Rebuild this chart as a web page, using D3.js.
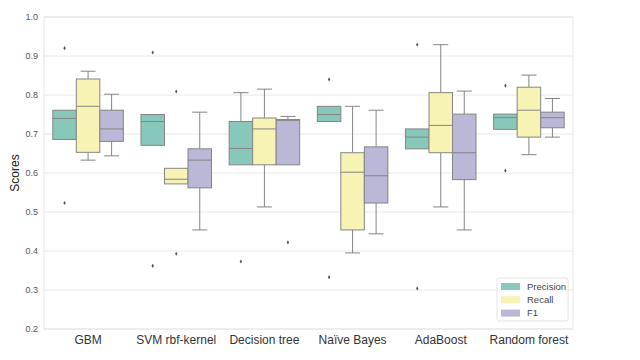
<!DOCTYPE html>
<html>
<head>
<meta charset="utf-8">
<script src="https://cdn.jsdelivr.net/npm/d3@7"></script>
<style>
  body { margin: 0; background: #fff; }
  svg { display: block; font-family: "Liberation Sans", Arial, sans-serif; }
</style>
</head>
<body>
<div id="chart"></div>
<script>
const models = ["GBM", "SVM rbf-kernel", "Decision tree", "Naïve Bayes", "AdaBoost", "Random forest"];
const metrics = ["Precision", "Recall", "F1"];
const yTicks = [0.2, 0.3, 0.4, 0.5, 0.6, 0.7, 0.8, 0.9, 1.0];

// box stats per metric, one entry per model: [whiskerLow, q1, median, q3, whiskerHigh]
const precisionStats = [
  [0.686, 0.686, 0.740, 0.761, 0.761],
  [0.671, 0.671, 0.732, 0.750, 0.750],
  [0.621, 0.621, 0.663, 0.732, 0.806],
  [0.732, 0.732, 0.750, 0.771, 0.771],
  [0.662, 0.662, 0.692, 0.713, 0.713],
  [0.712, 0.712, 0.742, 0.751, 0.751],
];
const recallStats = [
  [0.633, 0.653, 0.771, 0.841, 0.861],
  [0.572, 0.572, 0.584, 0.612, 0.612],
  [0.513, 0.621, 0.713, 0.741, 0.815],
  [0.395, 0.454, 0.602, 0.652, 0.771],
  [0.513, 0.652, 0.722, 0.806, 0.929],
  [0.647, 0.692, 0.761, 0.820, 0.851],
];
const f1Stats = [
  [0.644, 0.681, 0.713, 0.761, 0.802],
  [0.454, 0.562, 0.633, 0.662, 0.756],
  [0.621, 0.621, 0.735, 0.737, 0.745],
  [0.444, 0.523, 0.593, 0.667, 0.761],
  [0.454, 0.583, 0.652, 0.751, 0.810],
  [0.692, 0.716, 0.742, 0.756, 0.791],
];

const precisionOutliers = [[0.92, 0.523], [0.909, 0.362], [0.373], [0.840, 0.333], [0.929, 0.304], [0.824, 0.606]];
const recallOutliers = [[], [0.809, 0.393], [], [], [], []];
const f1Outliers = [[], [], [0.422], [], [], []];

const colors = ["#88c8bb", "#f6f3b5", "#bbb7d6"];

const width = 640, height = 360;
const margin = { top: 17, right: 67, bottom: 31, left: 44 };

const svg = d3.select("#chart").append("svg")
  .attr("width", width).attr("height", height);

const x = d3.scaleBand().domain(models).range([margin.left, width - margin.right]);
const xs = d3.scaleBand().domain(metrics).range([x.bandwidth() * 0.1, x.bandwidth() * 0.9]);
const y = d3.scaleLinear().domain([0.2, 1.0]).range([height - margin.bottom, margin.top]);

// grid
svg.append("g").selectAll("line").data(yTicks).join("line")
  .attr("x1", margin.left).attr("x2", width - margin.right)
  .attr("y1", d => y(d)).attr("y2", d => y(d))
  .attr("stroke", "#e8e8e8").attr("stroke-width", 1);

// frame
svg.append("rect")
  .attr("x", margin.left).attr("y", margin.top)
  .attr("width", width - margin.left - margin.right)
  .attr("height", height - margin.top - margin.bottom)
  .attr("fill", "none").attr("stroke", "#e6e6e6");

// y axis
const yAxis = svg.append("g").attr("transform", `translate(${margin.left},0)`)
  .call(d3.axisLeft(y).tickValues(yTicks).tickFormat(d3.format(".1f")).tickSize(0).tickPadding(6));
yAxis.select(".domain").remove();
yAxis.selectAll("text").attr("font-size", "9px").attr("fill", "#555")
  .attr("font-family", "Liberation Sans, Arial, sans-serif");

svg.append("text")
  .attr("transform", `translate(19,${(margin.top + height - margin.bottom) / 2}) rotate(-90)`)
  .attr("text-anchor", "middle").attr("font-size", "12px").attr("fill", "#222")
  .text("Scores");

// x axis
const xAxis = svg.append("g").attr("transform", `translate(0,${height - margin.bottom})`)
  .call(d3.axisBottom(x).tickSize(0).tickPadding(6));
xAxis.select(".domain").remove();
xAxis.selectAll("text").attr("font-size", "12px").attr("fill", "#333")
  .attr("font-family", "Liberation Sans, Arial, sans-serif");

// boxes
const edge = "#858585";
const series = [
  { name: "Precision", stats: precisionStats, outliers: precisionOutliers },
  { name: "Recall", stats: recallStats, outliers: recallOutliers },
  { name: "F1", stats: f1Stats, outliers: f1Outliers },
];

series.forEach((s, si) => {
  s.stats.forEach((st, mi) => {
    const [lo, q1, med, q3, hi] = st;
    const x0 = x(models[mi]) + xs(s.name);
    const bw = xs.bandwidth();
    const cx = x0 + bw / 2;
    const cap = bw * 0.32;
    const g = svg.append("g");

    g.append("line").attr("x1", cx).attr("x2", cx).attr("y1", y(hi)).attr("y2", y(q3))
      .attr("stroke", edge);
    g.append("line").attr("x1", cx).attr("x2", cx).attr("y1", y(q1)).attr("y2", y(lo))
      .attr("stroke", edge);
    if (hi > q3) g.append("line").attr("x1", cx - cap).attr("x2", cx + cap)
      .attr("y1", y(hi)).attr("y2", y(hi)).attr("stroke", edge);
    if (lo < q1) g.append("line").attr("x1", cx - cap).attr("x2", cx + cap)
      .attr("y1", y(lo)).attr("y2", y(lo)).attr("stroke", edge);

    g.append("rect").attr("x", x0).attr("width", bw)
      .attr("y", y(q3)).attr("height", y(q1) - y(q3))
      .attr("fill", colors[si]).attr("stroke", edge).attr("stroke-width", 1);
    g.append("line").attr("x1", x0).attr("x2", x0 + bw)
      .attr("y1", y(med)).attr("y2", y(med)).attr("stroke", edge);

    g.selectAll("path").data(s.outliers[mi]).join("path")
      .attr("d", d3.symbol(d3.symbolDiamond, 5))
      .attr("transform", d => `translate(${cx},${y(d)})`)
      .attr("fill", "#555");
  });
});

// legend
const lg = svg.append("g").attr("transform", "translate(497,278)");
lg.append("rect").attr("width", 71).attr("height", 43).attr("rx", 2)
  .attr("fill", "#fff").attr("stroke", "#e4e4e4");
metrics.forEach((m, i) => {
  lg.append("rect").attr("x", 4).attr("y", 5 + i * 13.3).attr("width", 19).attr("height", 7)
    .attr("fill", colors[i]);
  lg.append("text").attr("x", 30).attr("y", 8.5 + i * 13.3).attr("dy", "0.35em")
    .attr("font-size", "9.5px").attr("fill", "#444").text(m);
});
</script>
</body>
</html>
